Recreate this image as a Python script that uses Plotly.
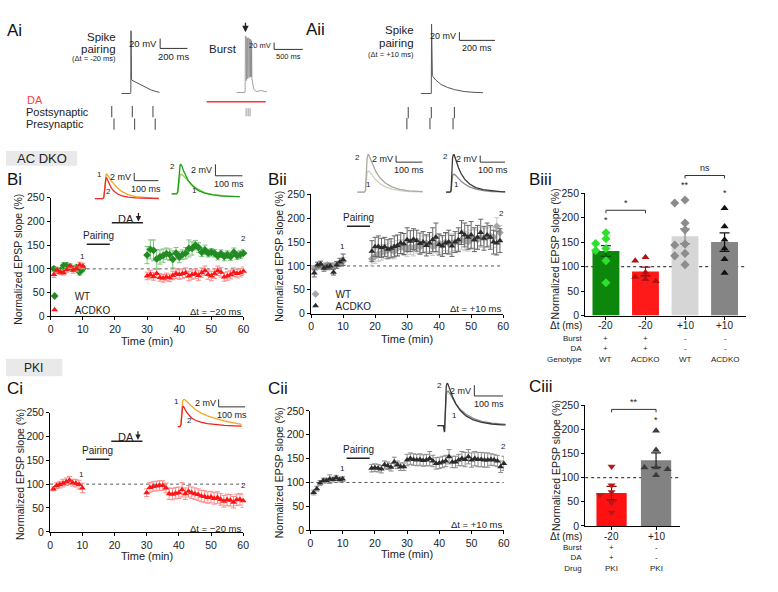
import plotly.graph_objects as go

W, H = 778, 592

# ---------------- data ----------------
# time-course samples (min) and normalized EPSP slope (%), mean and SEM
t_base = [1, 2, 3, 4, 5, 6, 7, 8, 9, 10]
t_post_30_60 = [30, 31, 32, 33, 34, 35, 36, 37, 38, 39, 40, 41, 42, 43, 44, 45,
                46, 47, 48, 49, 50, 51, 52, 53, 54, 55, 56, 57, 58, 59, 60]
t_post_19_59 = [19, 20, 21, 22, 23, 24, 25, 26, 27, 28, 29, 30, 31, 32, 33, 34, 35,
                36, 37, 38, 39, 40, 41, 42, 43, 44, 45, 46, 47, 48, 49, 50, 51, 52,
                53, 54, 55, 56, 57, 58, 59]
t_post_19_60 = t_post_19_59 + [60]

# Bi  (dt = -20 ms, burst + DA)
bi_wt_base = [100, 97, 97, 107, 107, 104, 100, 103, 93, 100]
bi_wt_base_sem = [5, 5, 5, 6, 6, 5, 5, 5, 6, 6]
bi_wt_post = [129, 141, 139, 121, 125, 128, 132, 130, 120, 133, 125, 130, 133, 143, 143, 150,
              145, 135, 140, 133, 135, 133, 127, 132, 126, 130, 126, 135, 128, 130, 133]
bi_wt_post_sem = [18, 20, 22, 20, 15, 14, 12, 12, 18, 12, 12, 10, 12, 18, 14, 10,
                  10, 9, 10, 8, 8, 8, 8, 8, 9, 8, 8, 9, 8, 8, 8]
bi_ko_base = [88, 97, 93, 92, 98, 106, 97, 100, 108, 106]
bi_ko_base_sem = [6, 5, 5, 5, 5, 5, 6, 6, 6, 6]
bi_ko_post = [85, 88, 84, 90, 82, 80, 83, 81, 86, 90, 88, 90, 92, 85, 88, 90,
              86, 92, 96, 88, 85, 90, 96, 93, 83, 85, 88, 93, 90, 92, 95]
bi_ko_post_sem = [8, 9, 8, 9, 8, 8, 8, 8, 9, 10, 10, 10, 10, 10, 10, 10,
                  10, 10, 10, 10, 10, 10, 10, 10, 9, 9, 9, 9, 9, 9, 9]

# Bii (dt = +10 ms)
bii_wt_base = [95, 98, 100, 100, 102, 98, 100, 103, 105, 110]
bii_wt_base_sem = [5, 5, 5, 5, 5, 5, 5, 5, 6, 8]
bii_wt_post = [115, 120, 125, 128, 130, 133, 135, 130, 137, 140, 138, 135, 140, 138, 142, 140,
               145, 148, 145, 140, 145, 148, 143, 150, 147, 148, 150, 150, 155, 152, 150, 155,
               157, 155, 160, 158, 160, 163, 160, 183, 170]
bii_wt_post_sem = [14, 15, 15, 16, 15, 15, 16, 15, 16, 15, 16, 15, 16, 17, 15, 16,
                   18, 18, 17, 18, 18, 19, 18, 18, 18, 19, 18, 18, 20, 20, 19, 20,
                   20, 20, 21, 20, 20, 20, 21, 18, 15]
bii_ko_base = [85, 102, 104, 95, 98, 100, 87, 102, 108, 113]
bii_ko_base_sem = [8, 6, 6, 6, 6, 6, 6, 7, 8, 12]
bii_ko_post = [131, 140, 141, 138, 140, 135, 137, 141, 143, 148, 146, 155, 152, 156, 153, 147,
               150, 143, 148, 155, 160, 145, 142, 148, 150, 142, 150, 155, 170, 165, 160, 165,
               155, 160, 170, 158, 165, 160, 150, 148, 153]
bii_ko_post_sem = [22, 20, 22, 20, 20, 20, 20, 22, 22, 22, 22, 25, 22, 22, 22, 22,
                   22, 22, 22, 25, 30, 22, 22, 22, 25, 22, 22, 25, 25, 25, 25, 28,
                   25, 25, 28, 25, 25, 25, 25, 25, 25]

# Ci (PKI, dt = -20 ms, burst + DA)
ci_base = [90, 97, 99, 102, 105, 108, 103, 102, 99, 92]
ci_base_sem = [4, 6, 7, 8, 8, 8, 7, 8, 9, 10]
ci_post = [82, 93, 95, 96, 97, 97, 92, 80, 79, 81, 82, 88, 80, 85, 82, 80,
           78, 75, 74, 72, 73, 70, 72, 68, 64, 67, 66, 62, 67, 68, 65]
ci_post_sem = [8, 10, 10, 10, 10, 10, 10, 12, 12, 12, 12, 15, 12, 12, 12, 12,
               12, 12, 12, 12, 12, 12, 12, 12, 12, 12, 12, 12, 12, 12, 14]

# Cii (PKI, dt = +10 ms)
cii_base = [79, 87, 99, 104, 104, 107, 106, 110, 106, 107]
cii_base_sem = [5, 5, 5, 5, 5, 9, 5, 5, 5, 5]
cii_post = [130, 131, 130, 128, 137, 135, 132, 143, 137, 133, 133, 147, 150, 148, 147, 148,
            146, 147, 150, 145, 140, 141, 143, 145, 154, 143, 143, 147, 150, 148, 154, 147,
            150, 148, 148, 147, 147, 148, 147, 145, 133, 140]
cii_post_sem = [8, 8, 8, 8, 8, 8, 8, 10, 8, 8, 8, 12, 12, 12, 12, 12,
                12, 12, 15, 12, 12, 12, 12, 12, 15, 12, 12, 12, 15, 15, 15, 15,
                15, 15, 15, 15, 15, 12, 12, 12, 12, 15]

pairing_window = [11.2, 18.4]   # min
da_window = [19.0, 28.7]        # min
burst_time = 27.3               # min

# Biii summary
biii_means = [132, 90, 162, 150]
biii_sem = [11, 9, 15, 19]
biii_points = [
    [169, 157, 147, 137, 133, 112, 67],
    [119, 112, 88, 79, 74, 70],
    [236, 230, 189, 175, 146, 144, 127, 122, 104],
    [219, 182, 155, 137, 115, 87],
]
biii_dt = ['-20', '-20', '+10', '+10']
biii_burst = ['+', '+', '-', '-']
biii_da = ['+', '+', '-', '-']
biii_genotype = ['WT', 'ACDKO', 'WT', 'ACDKO']

# Ciii summary
ciii_means = [68, 136]
ciii_sem = [14, 15]
ciii_points = [
    [123, 84, 70, 64, 48, 28],
    [197, 157, 121, 121, 117, 105],
]
ciii_dt = ['-20', '+10']
ciii_burst = ['+', '-']
ciii_da = ['+', '-']
ciii_drug = ['PKI', 'PKI']

# example EPSPs (ms, mV)
epsp_t = [-40, -4, 0, 3, 6, 9, 12, 16, 22, 30, 40, 55, 75, 100, 130, 165, 200, 230]
bi_epsp1 = [0, 0, 0.3, 3.0, 5.4, 6.2, 6.3, 6.0, 5.4, 4.6, 3.8, 2.8, 1.8, 1.05, 0.55, 0.3, 0.15, 0.1]
bi_epsp2 = [0, 0, 0.3, 2.8, 4.8, 5.4, 5.2, 4.6, 3.7, 2.8, 2.0, 1.25, 0.7, 0.38, 0.2, 0.12, 0.08, 0.05]
bi_wt_epsp1 = [0.4, 0.4, 0.6, 1.9, 3.1, 3.6, 3.8, 3.75, 3.5, 3.1, 2.6, 1.9, 1.2, 0.6, 0.25, 0.05, -0.05, -0.1]
bi_wt_epsp2 = [0.4, 0.4, 0.7, 2.8, 4.7, 5.4, 5.5, 5.2, 4.4, 3.5, 2.6, 1.8, 1.0, 0.5, 0.2, 0.0, -0.05, -0.1]
bii_wt_epsp1 = [0, 0, 0.3, 3.4, 5.8, 6.4, 6.5, 6.2, 5.5, 4.6, 3.7, 2.6, 1.6, 0.9, 0.45, 0.2, 0.1, 0.05]
bii_wt_epsp2 = [0, 0, 0.5, 6.0, 10.2, 11.4, 11.5, 10.8, 9.5, 7.9, 6.2, 4.4, 2.8, 1.6, 0.85, 0.4, 0.2, 0.1]
bii_ko_epsp1 = [0, 0, 0.3, 3.0, 4.9, 5.4, 5.5, 5.3, 4.8, 4.1, 3.4, 2.5, 1.6, 0.9, 0.45, 0.2, 0.1, 0.05]
bii_ko_epsp2 = [0, 0, 0.5, 6.2, 10.4, 11.4, 11.5, 10.7, 9.2, 7.5, 5.8, 4.0, 2.5, 1.4, 0.75, 0.35, 0.15, 0.05]
ci_epsp1 = [0, 0, 0.5, 4.4, 6.7, 7.2, 7.3, 7.15, 6.8, 6.2, 5.5, 4.6, 3.7, 2.9, 2.2, 1.5, 1.0, 0.6]
ci_epsp2 = [0, 0, 0.4, 3.5, 5.1, 5.5, 5.2, 4.6, 3.8, 3.0, 2.3, 1.7, 1.2, 0.8, 0.55, 0.35, 0.2, 0.12]
cii_epsp1 = [0, 0, -1.2, 3.6, 5.7, 6.3, 6.4, 6.2, 5.6, 4.8, 4.0, 3.0, 2.1, 1.35, 0.8, 0.45, 0.25, 0.15]
cii_epsp2 = [0, 0, -1.2, 4.8, 7.3, 7.9, 7.7, 7.1, 6.2, 5.1, 4.0, 2.8, 1.8, 1.05, 0.6, 0.3, 0.15, 0.1]

# protocol voltage traces (ms, mV relative to rest)
ai_spike_t = [-70, -3, 0, 1.5, 3, 5, 8, 15, 30, 55, 80, 110, 150, 185, 210]
ai_spike_v = [0, 0, 2, 128, 45, 30, 27, 26, 23, 19, 15.5, 11.5, 7, 4, 2.5]
burst_t = [-150, -5, 0, 4, 10, 16, 22, 28, 34, 40, 46, 52, 58, 64, 70, 76, 82, 88, 94, 100,
           106, 112, 118, 130, 150, 180, 220, 260, 300, 340, 380]
burst_v = [0, 0, 5, 165, 30, 163, 35, 160, 38, 158, 40, 160, 42, 158, 44, 156, 45, 155, 46, 154,
           45, 150, 40, 22, 10, 4, 3, 6, 5, 3, 2]
burst_stim_t = [17, 52, 86]
da_application_ms = [-672, 357]
aii_spike_t = [-60, -3, 0, 1.5, 3, 6, 12, 25, 55, 90, 130, 185, 240, 290]
aii_spike_v = [0, -1, 0, 170, 50, 44, 40, 33, 22, 15, 9.5, 4.8, 2.8, 2]

# pairing stimulus schematic (trial index)
ai_post = [0, 1, 2]
ai_pre = [0.11, 1.11, 2.11]
aii_post = [0, 1, 2]
aii_pre = [-0.06, 0.94, 1.94]

# ---------------- helpers ----------------
FONT = 'Liberation Sans, Arial, sans-serif'
fig = go.Figure()
axes = {}
ann = []
shp = []


def refs(n):
    return ('x' if n == 1 else f'x{n}'), ('y' if n == 1 else f'y{n}')


def add_axes(n, left, right, top, bottom, xr, yr, xstyle=None, ystyle=None):
    xr_, yr_ = refs(n)
    xa = dict(domain=[left / W, right / W], range=xr, anchor=yr_, visible=False, fixedrange=True)
    ya = dict(domain=[1 - bottom / H, 1 - top / H], range=yr, anchor=xr_, visible=False, fixedrange=True)
    if xstyle:
        xa.update(xstyle)
    if ystyle:
        ya.update(ystyle)
    axes['xaxis' if n == 1 else f'xaxis{n}'] = xa
    axes['yaxis' if n == 1 else f'yaxis{n}'] = ya


def trace_axes(n, t0_px, px_ms, v0_px, px_mv, xr, yr):
    add_axes(n, t0_px + xr[0] * px_ms, t0_px + xr[1] * px_ms,
             v0_px - yr[1] * px_mv, v0_px - yr[0] * px_mv, xr, yr)


def ptxt(text, px, py, size=10, color='#222', xanchor='center', yanchor='middle', **kw):
    ann.append(dict(text=text, x=px / W, y=1 - py / H, xref='paper', yref='paper', showarrow=False,
                    font=dict(size=size, color=color, family=FONT), xanchor=xanchor, yanchor=yanchor, **kw))


def dtxt(n, text, x, y, size=10, color='#222', xanchor='center', yanchor='middle', domain=None, **kw):
    xr_, yr_ = refs(n)
    if domain:
        y, yr_ = y / domain, f'{yr_} domain'
    ann.append(dict(text=text, x=x, y=y, xref=xr_, yref=yr_, showarrow=False,
                    font=dict(size=size, color=color, family=FONT), xanchor=xanchor, yanchor=yanchor, **kw))


def line(n, x, y, color='#222', width=1.0):
    xr_, yr_ = refs(n)
    fig.add_trace(go.Scatter(x=x, y=y, mode='lines', line=dict(color=color, width=width),
                             xaxis=xr_, yaxis=yr_, showlegend=False, hoverinfo='skip'))


def scale_bar(n, t, v, ms, mv, ms_label, mv_label, size=9):
    line(n, [t, t, t + ms], [v + mv, v, v], color='#333', width=1)
    dtxt(n, mv_label, t, v + mv / 2, size=size, xanchor='right', xshift=-1)
    dtxt(n, ms_label, t + ms / 2, v, size=size, yanchor='top', yshift=-1)


AX = dict(visible=True, showline=True, linecolor='black', linewidth=1.2, ticks='outside', ticklen=3,
          tickwidth=1.2, tickcolor='black', showgrid=False, zeroline=False,
          tickfont=dict(size=10.5, color='#222', family=FONT))
YAX = dict(AX, tickvals=[0, 50, 100, 150, 200, 250])
XAX_T = dict(AX, tickvals=[0, 10, 20, 30, 40, 50, 60])
XAX_B = dict(AX, showticklabels=False)


# ---------------- time-course panels ----------------
def timecourse(n, box, groups, pair_y, ytitle_px, xtitle_py, dt_text, dt_y, lab1, lab2,
               da_y=None, da_text_y=None):
    left, right, top, bottom = box
    add_axes(n, left, right, top, bottom, [0, 60], [0, 250], XAX_T, YAX)
    xr_, yr_ = refs(n)
    shp.append(dict(type='line', xref=xr_, yref=yr_, x0=0, x1=60, y0=100, y1=100, layer='below',
                    line=dict(color='#555', width=1, dash='dot')))
    for name, t, v, e, col, ecol, sym, leg in groups:
        fig.add_trace(go.Scatter(
            x=t, y=v, mode='markers', name=name, xaxis=xr_, yaxis=yr_, cliponaxis=False,
            marker=dict(symbol=sym, size=6, color=col, line=dict(width=0)),
            error_y=dict(type='data', array=e, color=ecol, thickness=1, width=2.5),
            showlegend=leg is not None, legend=leg or 'legend'))
    line(n, pairing_window, [pair_y, pair_y], width=1.5)
    dtxt(n, 'Pairing', sum(pairing_window) / 2, pair_y, size=10, yanchor='bottom', yshift=1)
    if da_y is not None:
        line(n, da_window, [da_y, da_y], width=1.5)
        dtxt(n, 'DA', 23.5, da_text_y, size=11)
        ann.append(dict(x=burst_time, y=da_y + 3, xref=xr_, yref=yr_, text='', showarrow=True,
                        arrowhead=2, arrowsize=0.9, arrowwidth=1.2, arrowcolor='#222', ax=0, ay=-10))
    dtxt(n, '1', lab1[0], lab1[1], size=8)
    dtxt(n, '2', lab2[0], lab2[1], size=8)
    dtxt(n, dt_text, 60, dt_y, size=9.5, xanchor='right')
    ptxt('Normalized EPSP slope (%)', ytitle_px, (top + bottom) / 2 + 2, size=10.5, textangle=-90)
    ptxt('Time (min)', (left + right) / 2, xtitle_py, size=11)


GREEN, LGREEN = '#238b23', '#78c878'
RED, PINK = '#ff1414', '#ff8a8a'
LGRAY, LLGRAY = '#a8a8a8', '#cacaca'
DARK, DGRAY = '#2b2b2b', '#666666'

timecourse(1, (48.3, 243.3, 195.7, 316.7), [
    ('WT', t_base + t_post_30_60, bi_wt_base + bi_wt_post, bi_wt_base_sem + bi_wt_post_sem,
     GREEN, LGREEN, 'diamond', 'legend'),
    ('ACDKO', t_base + t_post_30_60, bi_ko_base + bi_ko_post, bi_ko_base_sem + bi_ko_post_sem,
     RED, PINK, 'triangle-up', 'legend2'),
], 152, 15, 342, 'Δt = −20 ms', 10, (10, 126), (60, 163), da_y=197, da_text_y=206)

timecourse(2, (311.7, 506, 192.3, 314), [
    ('WT', t_base + t_post_19_59, bii_wt_base + bii_wt_post, bii_wt_base_sem + bii_wt_post_sem,
     LGRAY, LLGRAY, 'diamond', 'legend3'),
    ('ACDKO', t_base + t_post_19_59, bii_ko_base + bii_ko_post, bii_ko_base_sem + bii_ko_post_sem,
     DARK, DGRAY, 'triangle-up', 'legend4'),
], 183, 279, 340, 'Δt = +10 ms', 10, (9.7, 140), (59.6, 211))

timecourse(4, (47.7, 243, 415, 536.7), [
    ('PKI', t_base + t_post_30_60, ci_base + ci_post, ci_base_sem + ci_post_sem,
     RED, PINK, 'triangle-up', None),
], 152, 17, 561, 'Δt = −20 ms', 7, (9.9, 120), (60, 97), da_y=190, da_text_y=199)

timecourse(5, (311, 506.7, 413.3, 535), [
    ('PKI', t_base + t_post_19_60, cii_base + cii_post, cii_base_sem + cii_post_sem,
     DARK, '#8c8c8c', 'triangle-up', None),
], 151, 280, 559, 'Δt = +10 ms', 11, (10.1, 130), (59.8, 176))


# ---------------- bar panels ----------------
def swarm(values, step, thresh):
    placed, offs = [], []
    for v in values:
        off = 0
        for k in (0, -1, 1, -2, 2):
            off = k * step
            if all(abs(v - pv) >= thresh for po, pv in placed if po == off):
                break
        placed.append((off, v))
        offs.append(off)
    return offs


def bar_panel(n, box, xr, means, sems, points, bar_cols, err_cols, pt_cols, pt_syms,
              rows, row_names, row_py, ytitle, brackets, stars):
    left, right, top, bottom = box
    add_axes(n, left, right, top, bottom, xr, [0, 250],
             dict(XAX_B, tickvals=list(range(len(means)))), YAX)
    xr_, yr_ = refs(n)
    shp.append(dict(type='line', xref=xr_, yref=yr_, x0=xr[0], x1=xr[1], y0=100, y1=100, layer='below',
                    line=dict(color='#444', width=1.2, dash='dot')))
    for i, m in enumerate(means):
        fig.add_trace(go.Bar(x=[i], y=[m], width=0.68, marker=dict(color=bar_cols[i], line=dict(width=0)),
                             error_y=dict(type='data', array=[sems[i]], color=err_cols[i], thickness=1.2, width=5),
                             xaxis=xr_, yaxis=yr_, showlegend=False))
        offs = swarm(points[i], 0.26, 12)
        fig.add_trace(go.Scatter(x=[i + o for o in offs], y=points[i], mode='markers',
                                 marker=dict(symbol=pt_syms[i], size=7, color=pt_cols[i]),
                                 xaxis=xr_, yaxis=yr_, showlegend=False, cliponaxis=False))
    # first row (delta t) in its own line, the condition rows as one stacked block per column
    ptxt(row_names[0], left - 2, row_py[0], size=10, xanchor='right', borderpad=0)
    ptxt('<br>'.join(row_names[1:]), left - 2, row_py[1], size=8, xanchor='right', yanchor='top',
         align='right', borderpad=0)
    for i in range(len(means)):
        ann.append(dict(text=rows[0][i], x=i, y=1 - row_py[0] / H, xref=xr_, yref='paper', showarrow=False,
                        xanchor='center', yanchor='middle', borderpad=0,
                        font=dict(size=10, color='#222', family=FONT)))
        ann.append(dict(text='<br>'.join(r[i] for r in rows[1:]), x=i, y=1 - row_py[1] / H, xref=xr_,
                        yref='paper', xanchor='center', yanchor='top', showarrow=False, borderpad=0,
                        font=dict(size=8, color='#222', family=FONT)))
    for x0, x1, v, label in brackets:
        d = 6 / 250
        y = v / 250
        shp.append(dict(type='path', xref=xr_, yref=f'{yr_} domain',
                        path=f'M {x0},{y - d} L {x0},{y} L {x1},{y} L {x1},{y - d}',
                        line=dict(color='#333', width=1)))
        dtxt(n, label, (x0 + x1) / 2, v, size=9, yanchor='bottom', domain=250)
    for x, v, label in stars:
        dtxt(n, label, x, v, size=9, yshift=-2, domain=250)
    ptxt('Normalized EPSP slope (%)', ytitle[0], ytitle[1], size=10.5, textangle=-90)


bar_panel(3, (589, 752, 191, 316), [-0.525, 3.55], biii_means, biii_sem, biii_points,
          ['#0c870c', '#ff1a1a', '#d6d6d6', '#858585'],
          ['#0a4a0a', '#8a0a0a', '#8a8a8a', '#111111'],
          ['#2ee02e', '#b01212', '#8c8c8c', '#111111'],
          ['diamond', 'triangle-up', 'diamond', 'triangle-up'],
          [biii_dt, biii_burst, biii_da, biii_genotype], ['Δt (ms)', 'Burst', 'DA', 'Genotype'],
          [326, 333.5], (558, 253),
          [(0, 1, 215, '*'), (2, 3, 286, 'ns')],
          [(0, 199, '*'), (2, 271, '**'), (3, 255, '*')])

bar_panel(6, (589, 685, 407.3, 530.7), [-0.593, 1.54], ciii_means, ciii_sem, ciii_points,
          ['#ff1111', '#828282'], ['#8a0a0a', '#222222'], ['#b31b1b', '#3c3c3c'],
          ['triangle-down', 'triangle-up'],
          [ciii_dt, ciii_burst, ciii_da, ciii_drug], ['Δt (ms)', 'Burst', 'DA', 'Drug'],
          [541, 547.5], (560, 469),
          [(0, 1, 241, '**')], [(1, 224, '*')])


# ---------------- EPSP insets ----------------
def inset(n, geom, xr, yr, tr1, tr2, c1, c2, bar, lab1, lab2):
    trace_axes(n, *geom, xr, yr)
    line(n, epsp_t, tr1, color=c1, width=1.3)
    line(n, epsp_t, tr2, color=c2, width=1.3)
    scale_bar(n, bar[0], bar[1], 100, 2, '100 ms', '2 mV')
    dtxt(n, '1', lab1[0], lab1[1], size=8, xanchor='right')
    dtxt(n, '2', lab2[0], lab2[1], size=8, xanchor='right')


inset(7, (102, 0.246, 196.7, 4.0), [-37, 226], [-1, 7.5], bi_epsp1, bi_epsp2, '#f5a623', '#ef2a2a',
      (125, 4.6), (-1, 6.2), (37, 1.85))
inset(8, (176.7, 0.273, 194, 5.85), [-22, 242], [-0.7, 6.0], bi_wt_epsp1, bi_wt_epsp2, '#8fd14f', '#18a018',
      (140, 3.54), (78, 1.03), (-1, 5.1))
inset(9, (366.7, 0.267, 190, 3.33), [-31, 217], [-1, 12.5], bii_wt_epsp1, bii_wt_epsp2, '#d0d0c6', '#a9a9a0',
      (116, 9.2), (29, 2.2), (-12, 10.5))
inset(10, (453.3, 0.25, 190, 3.33), [-20, 219], [-1, 12.5], bii_ko_epsp1, bii_ko_epsp2, '#8a8a8a', '#383838',
      (118, 9.2), (42, 2.3), (-4, 10.8))
inset(11, (180, 0.267, 429.3, 3.8), [-12, 244], [-0.8, 7.8], ci_epsp1, ci_epsp2, '#f5a623', '#ef2222',
      (143, 5.3), (-1, 6.7), (48, 1.74))
inset(12, (446.7, 0.29, 428.3, 5.5), [-25, 213], [-1.5, 8.3], cii_epsp1, cii_epsp2, '#8a8a8a', '#383838',
      (104, 5.5), (50, 1.8), (-1, 7.5))


# ---------------- protocol traces (row A) ----------------
trace_axes(13, 129.3, 0.138, 89.3, 0.5, [-70, 420], [-5, 135])
line(13, ai_spike_t, ai_spike_v, color='#555', width=1)
scale_bar(13, 215, 92, 200, 20, '200 ms', '20 mV', size=9.5)

trace_axes(14, 245, 0.058, 88.3, 0.35, [-700, 1010], [-70, 180])
line(14, burst_t, burst_v, color='#8a8a8a', width=0.8)
line(14, da_application_ms, [-27, -27], color='#ff3030', width=1.6)
fig.add_trace(go.Scatter(x=burst_stim_t, y=[-58] * len(burst_stim_t), mode='markers', xaxis='x14', yaxis='y14',
                         marker=dict(symbol='line-ns', size=6, line=dict(width=1, color='#999')),
                         showlegend=False))
scale_bar(14, 505, 125.7, 500, 20, '500 ms', '20 mV', size=7.5)
ann.append(dict(x=5, y=176, xref='x14', yref='y14', text='', showarrow=True, arrowhead=2, arrowsize=1,
                arrowwidth=1.3, arrowcolor='#222', ax=0, ay=-11))

trace_axes(15, 433.3, 0.18, 89.3, 0.417, [-60, 365], [-5, 175])
line(15, aii_spike_t, aii_spike_v, color='#555', width=1)
scale_bar(15, 158, 130, 200, 20, '200 ms', '20 mV', size=9)

# pairing schematics
for n, l, r, post, pre, p0, dp, yr in [
        (16, 100, 165, ai_post, ai_pre, 110, 20.85, [1.59, -0.61]),
        (17, 400, 465, aii_post, aii_pre, 410, 23.35, [1.71, -0.79])]:
    add_axes(n, l, r, 100, 128, [(l - p0) / dp, (r - p0) / dp], yr)
    for row, ts in enumerate([post, pre]):
        fig.add_trace(go.Scatter(x=ts, y=[row] * len(ts), mode='markers', xaxis=f'x{n}', yaxis=f'y{n}',
                                 marker=dict(symbol='line-ns', size=8, line=dict(width=1.1, color='#555')),
                                 showlegend=False))

ptxt('DA', 22, 96, size=11, color='#ff3b3b', xanchor='left')
ptxt('Postsynaptic', 21, 108, size=11, xanchor='left')
ptxt('Presynaptic', 21, 120, size=11, xanchor='left')
ptxt('Spike', 116, 31.5, size=11.5, xanchor='right')
ptxt('pairing', 116, 44, size=11.5, xanchor='right')
ptxt('(Δt = -20 ms)', 116, 54, size=7.5, xanchor='right')
ptxt('Burst', 239, 44, size=11.5, xanchor='right')
ptxt('Spike', 418, 25, size=11.5, xanchor='right')
ptxt('pairing', 418, 38, size=11.5, xanchor='right')
ptxt('(Δt = +10 ms)', 418, 49.5, size=7.5, xanchor='right')

# panel letters and section headers
for lab, x, y in [('Ai', 2, 25), ('Aii', 305, 24), ('Bi', 2, 177), ('Bii', 266, 177), ('Biii', 530, 177),
                  ('Ci', 2, 390), ('Cii', 266, 390), ('Ciii', 530, 388)]:
    ptxt(lab, x, y, size=17, color='#111', xanchor='left')
shp.append(dict(type='rect', xref='paper', yref='paper', x0=3 / W, x1=75 / W, y0=1 - 163 / H, y1=1 - 148 / H,
                fillcolor='#e9e9e9', line=dict(width=0), layer='below'))
ptxt('AC DKO', 39, 155.5, size=13)
shp.append(dict(type='rect', xref='paper', yref='paper', x0=3 / W, x1=60 / W, y0=1 - 378 / H, y1=1 - 360 / H,
                fillcolor='#e9e9e9', line=dict(width=0), layer='below'))
ptxt('PKI', 31, 369, size=12)

# legends (one entry each so they can sit where the figure has them)
legends = {}
for key, px, py in [('legend', 32, 296), ('legend2', 32, 310), ('legend3', 296, 294), ('legend4', 296, 306)]:
    legends[key] = dict(x=px / W, y=1 - py / H, xanchor='left', yanchor='middle', bgcolor='rgba(0,0,0,0)',
                        borderwidth=0, font=dict(size=10, color='#222', family=FONT), itemclick=False)

fig.update_layout(width=W, height=H, margin=dict(l=0, r=0, t=0, b=0), paper_bgcolor='white',
                  plot_bgcolor='rgba(0,0,0,0)', font=dict(family=FONT, color='#222'),
                  annotations=ann, shapes=shp, barmode='overlay', **axes, **legends)

# the page body keeps its default 8px margin otherwise, which shifts the whole figure
fig.write_html('out.html', config={'displayModeBar': False},
               post_script="document.body.style.margin='0';")
